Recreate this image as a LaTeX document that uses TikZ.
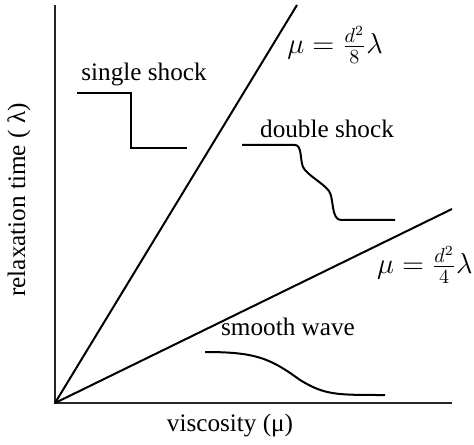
\documentclass[tikz,border=0pt]{standalone}
\usepackage{amsmath}
\usepackage{fontspec}
\setmainfont{Liberation Serif}
\usepackage{tikz}

\begin{document}
\begin{tikzpicture}[x=0.5pt,y=0.5pt,
    txt/.style={font=\fontsize{12.6}{15}\selectfont,inner sep=0pt},
    eq/.style={font=\fontsize{14}{16}\selectfont,inner sep=0pt,anchor=west},
    axis/.style={line width=0.6pt,black!85},
    curve/.style={line width=1pt}]
  \useasboundingbox (-55,-41) rectangle (419,403);
  \coordinate (o) at (0,0);
  \coordinate (ytop) at (0,398);
  \coordinate (xend) at (397,0);
  \coordinate (steep) at (242,398);
  \coordinate (shallow) at (397,194);
  \draw[axis] (ytop)--(o)--(xend);
  \draw[curve] (o)--(steep);
  \draw[curve] (o)--(shallow);
  \node[eq] (eqa) at (232,358) {$\mu=\frac{d^2}{8}\lambda$};
  \node[eq,anchor=east] (eqb) at (418,138) {$\mu=\frac{d^2}{4}\lambda$};
  \node[txt,rotate=90] (ylab) at (-36,203) {relaxation time ( λ)};
  \node[txt] (xlab) at (175,-22) {viscosity (μ)};
  \node[txt] (single) at (89,329) {single shock};
  \node[txt] (double) at (272,274) {double shock};
  \node[txt] (smooth) at (233,76) {smooth wave};
  \draw[curve] (22,310)--(76,310)--(76,255)--(132,255);
  \draw[curve] (187,258)--(240,258) .. controls (247,258) and (245,243) .. (248,236)
    .. controls (252,228) and (268,220) .. (274,212)
    .. controls (279,205) and (276,183) .. (286,183)--(340,183);
  \draw[curve] (150,51) .. controls (200,51) and (215,45) .. (245,23)
    .. controls (270,8) and (280,8) .. (330,8);
\end{tikzpicture}
\end{document}
